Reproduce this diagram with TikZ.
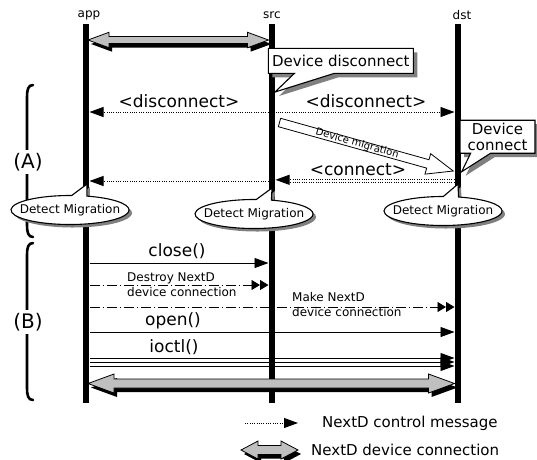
\documentclass[tikz,border=0pt]{standalone}
\usepackage{fontspec}
\setmainfont{DejaVu Sans}
\usetikzlibrary{arrows.meta,shapes.callouts,shapes.geometric}
\newcommand{\dconn}[6]{%
  \fill[black,shift={(3,4)}] (#1,#3) -- ({#1+#4},{#3-#5}) -- ({#1+#4},{#3-#6}) -- ({#2-#4},{#3-#6}) -- ({#2-#4},{#3-#5}) -- (#2,#3) -- ({#2-#4},{#3+#5}) -- ({#2-#4},{#3+#6}) -- ({#1+#4},{#3+#6}) -- ({#1+#4},{#3+#5}) -- cycle;
  \filldraw[connfill] (#1,#3) -- ({#1+#4},{#3-#5}) -- ({#1+#4},{#3-#6}) -- ({#2-#4},{#3-#6}) -- ({#2-#4},{#3-#5}) -- (#2,#3) -- ({#2-#4},{#3+#5}) -- ({#2-#4},{#3+#6}) -- ({#1+#4},{#3+#6}) -- ({#1+#4},{#3+#5}) -- cycle;}
\begin{document}
\begin{tikzpicture}[x=1pt,y=-1pt,
  lifeline/.style={line width=6.5pt},
  connfill/.style={fill=black!25,draw=black,line width=0.8pt},
  ctrl/.style={line width=0.9pt, dash pattern=on 1pt off 1.3pt, -{Triangle[length=14pt,width=10pt]}},
  dots/.style={line width=0.9pt, dash pattern=on 1pt off 1.3pt},
  callarr/.style={line width=0.9pt, -{Triangle[length=14pt,width=10pt]}},
  ddarr/.style={line width=0.9pt, dash pattern=on 10pt off 3pt on 1pt off 3pt, -{Triangle[length=8.5pt,width=10pt]Triangle[length=8.5pt,width=10pt]}},
  msg/.style={font=\fontsize{17}{19}\selectfont, inner sep=0pt},
  small/.style={font=\fontsize{12}{15}\selectfont, inner sep=0pt},
  head/.style={font=\fontsize{12}{14}\selectfont, inner sep=0pt},
  big/.style={font=\fontsize{20}{22}\selectfont, fill=white, inner sep=3pt},
  shadowfill/.style={fill=black!50, draw=none},
  brace/.style={line width=2.6pt, line cap=round},
  dmig/.style={ellipse callout, minimum width=118pt, minimum height=29pt, inner xsep=-8.5pt, inner ysep=0pt, font=\fontsize{12}{14}\selectfont},
  note/.style={rectangle callout, inner sep=0pt, font=\fontsize{15}{16}\selectfont, align=center},
  face/.style={draw, fill=white, line width=1.1pt}
]
\useasboundingbox[fill=white] (0,0) rectangle (537,459);

% headers
\node[head] (happ) at (89,15) {app};
\node[head] (hsrc) at (272,15) {src};
\node[head] (hdst) at (462,15) {dst};

% lifelines
\draw[lifeline] (86,24) coordinate (appT) -- (86,403) coordinate (appB);
\draw[lifeline] (272,24) coordinate (srcT) -- (272,403) coordinate (srcB);
\draw[lifeline] (458,24) coordinate (dstT) -- (458,403) coordinate (dstB);

% brackets
\draw[brace] (33,85) .. controls (28,85) and (27,90) .. (27,97) -- (27,225) .. controls (27,232) and (28,237) .. (33,237);
\node[big] (lA) at (28,162) {(A)};
\draw[brace] (33,243) .. controls (28,243) and (27,248) .. (27,255) -- (27,388) .. controls (27,395) and (28,400) .. (33,400);
\node[big] (lB) at (28,322) {(B)};

% top device connection
\dconn{88}{268.5}{40}{21}{7.7}{3.5}

% device disconnect callout
\node[note, shadowfill, minimum width=145pt, minimum height=25pt, callout absolute pointer={(279,96)}, callout pointer width=40pt] (ddisS) at (344.8,64.8) {\phantom{Device disconnect}};
\node[note, face, minimum width=145pt, minimum height=25pt, callout absolute pointer={(275,92)}, callout pointer width=40pt] (ddis) at (340.8,60.8) {Device disconnect};

% disconnect messages
\coordinate (s1l) at (268.5,112); \coordinate (a1) at (89.5,112);
\coordinate (s1r) at (275.5,112); \coordinate (d1) at (454.5,112);
\draw[ctrl] (s1l) -- (a1);
\draw[ctrl] (s1r) -- (d1);
\node[msg] (ldis1) at (179,101) {<disconnect>};
\node[msg] (ldis2) at (366,101) {<disconnect>};

% device migration arrow
\begin{scope}[shift={(279.5,122.5)}, rotate=-15.6]
  \filldraw[fill=white, draw=black, line width=0.8pt] (0,-4.35) -- (154,-4.35) -- (154,-10.6) -- (180.4,0) -- (154,10.6) -- (154,4.35) -- (0,4.35) -- cycle;
  \node[rotate=-15.6, font=\fontsize{10}{12}\selectfont, inner sep=0pt] (lmig) at (80.5,-0.5) {Device migration};
\end{scope}

% device connect callout
\node[note, shadowfill, minimum width=75pt, minimum height=33pt, callout absolute pointer={(465.7,175.7)}, callout pointer width=20pt] (dconS) at (501.5,140.7) {\phantom{connect}};
\node[note, face, minimum width=75pt, minimum height=33pt, callout absolute pointer={(461.7,171.7)}, callout pointer width=20pt] (dcon) at (497.5,136.7) {Device\\connect};

% connect messages
\coordinate (d2) at (454.5,179.8); \coordinate (s2r) at (275.5,179.8);
\coordinate (d2b) at (454.5,182.2); \coordinate (s2rb) at (290,182.2);
\coordinate (s2l) at (268.5,181); \coordinate (a2) at (89.5,181);
\draw[dots] (d2b) -- (s2rb);
\draw[ctrl] (d2) -- (s2r);
\draw[ctrl] (s2l) -- (a2);
\node[msg] (lcon) at (358,170) {<connect>};

% detect migration
\node[dmig, shadowfill, callout absolute pointer={(90,187)}] (dm1S) at (73,213) {\phantom{Detect Migration}};
\node[dmig, face, callout absolute pointer={(87,184)}] (dm1) at (70,210) {Detect Migration};
\node[dmig, shadowfill, callout absolute pointer={(275,191)}] (dm2S) at (257,217) {\phantom{Detect Migration}};
\node[dmig, face, callout absolute pointer={(272,188)}] (dm2) at (254,214) {Detect Migration};
\node[dmig, shadowfill, callout absolute pointer={(461,187)}] (dm3S) at (446,214) {\phantom{Detect Migration}};
\node[dmig, face, callout absolute pointer={(458,184)}] (dm3) at (443,211) {Detect Migration};

% phase B
\coordinate (a3) at (89.5,263); \coordinate (s3) at (268.5,263);
\draw[callarr] (a3) -- (s3);
\node[msg] (lclose) at (177,251) {close()};

\coordinate (a4) at (89.5,285); \coordinate (s4) at (268.5,285);
\draw[ddarr] (a4) -- (s4);
\node[small, anchor=west, align=left] (ldes) at (127,285) {Destroy NextD\\device connection};

\coordinate (a5) at (89.5,307); \coordinate (d5) at (454.5,307);
\draw[ddarr] (a5) -- (d5);
\node[small, anchor=west, align=left] (lmake) at (292,305) {Make NextD\\device connection};

\coordinate (a6) at (89.5,332); \coordinate (d6) at (454.5,332);
\draw[callarr] (a6) -- (d6);
\node[msg] (lopen) at (173,321) {open()};

\coordinate (a7) at (89.5,358); \coordinate (d7) at (454.5,358);
\coordinate (a8) at (89.5,362); \coordinate (d8) at (454.5,362);
\coordinate (a9) at (89.5,366); \coordinate (d9) at (454.5,366);
\draw[callarr] (a7) -- (d7);
\draw[callarr] (a8) -- (d8);
\draw[callarr] (a9) -- (d9);
\node[msg] (lioctl) at (174,347) {ioctl()};

% bottom device connection
\dconn{88}{454.5}{383.5}{26}{9.5}{4.5}

% legend
\coordinate (lg1) at (245,423); \coordinate (lg2) at (298,423);
\draw[ctrl] (lg1) -- (lg2);
\node[font=\fontsize{15}{17}\selectfont, anchor=west, inner sep=0pt] (lgt1) at (322,423) {NextD control message};
\dconn{241}{298}{450}{17}{9}{4.5}
\node[font=\fontsize{15}{17}\selectfont, anchor=west, inner sep=0pt] (lgt2) at (311,450) {NextD device connection};
\end{tikzpicture}
\end{document}
